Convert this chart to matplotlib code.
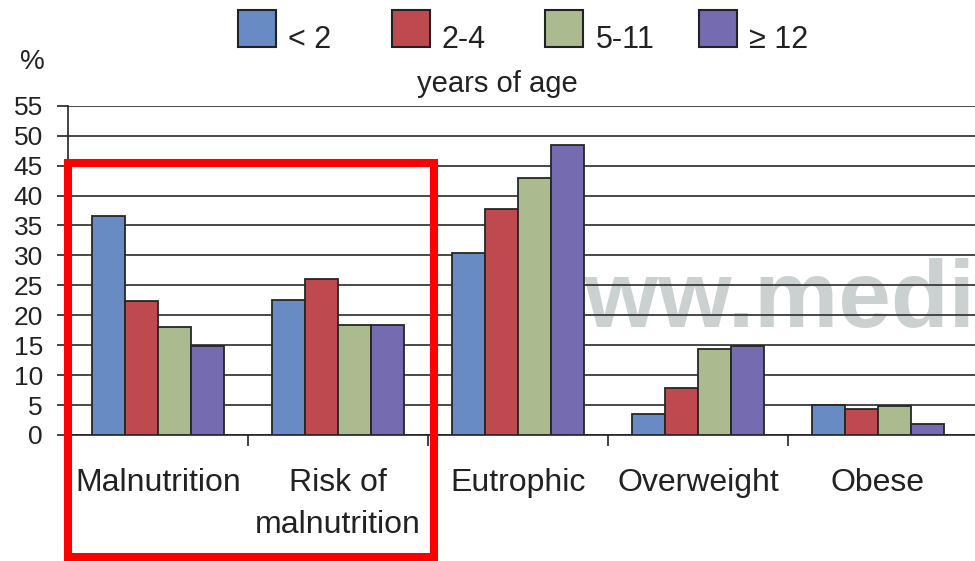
import numpy as np
import matplotlib.pyplot as plt
from matplotlib.patches import Rectangle

plt.rcParams['font.family'] = ['Liberation Sans', 'DejaVu Sans']

# Data
categories = ["Malnutrition", "Risk of\nmalnutrition", "Eutrophic", "Overweight", "Obese"]
age_groups = ["< 2", "2-4", "5-11", "\u2265 12"]
lt2 = [36.5, 22.5, 30.4, 3.5, 5.0]
a2_4 = [22.3, 26.0, 37.8, 7.8, 4.3]
a5_11 = [18.1, 18.3, 43.0, 14.4, 4.8]
ge12 = [14.8, 18.3, 48.5, 14.8, 1.8]
series = [lt2, a2_4, a5_11, ge12]
colors = ["#698bc4", "#be4a50", "#abbb8f", "#756bb0"]

W, H = 975, 561
fig = plt.figure(figsize=(W / 100, H / 100), dpi=100)
ax = fig.add_axes([68 / W, 1 - 435 / H, 1 - 68 / W, (435 - 105.7) / H])

x = np.arange(len(categories))
w = 0.182
for i, (vals, c) in enumerate(zip(series, colors)):
    ax.bar(x + (i - 1.5) * w, vals, width=w, color=c, edgecolor="#262626",
           linewidth=1.3, zorder=3, label=age_groups[i])

# watermark behind the grid (cut off at the right edge, as in the source)
ax.text(1.96, 18.0, "www.medig", fontsize=68, fontweight="bold",
        color="#cbd0d0", ha="left", va="baseline", zorder=0.5, clip_on=True)

ax.set_ylim(0, 55)
ax.set_xlim(-0.5, -0.5 + (W - 68) / 180)
ax.set_yticks(np.arange(0, 56, 5))
ax.yaxis.grid(True, color="#3a3a3a", linewidth=1.3, zorder=1)
ax.set_axisbelow(True)
ax.tick_params(axis="y", labelsize=19, length=8, width=1.2, pad=10, colors="#222222")

ax.set_xticks(x)
ax.set_xticklabels(categories, fontsize=23, color="#222222", linespacing=1.52)
ax.set_xticks(np.arange(0.5, 4.0, 1.0), minor=True)
ax.tick_params(axis="x", which="major", length=0, pad=24)
ax.tick_params(axis="x", which="minor", length=8, width=1.2, color="#222222")

for s in ["top", "right"]:
    ax.spines[s].set_visible(False)
for s in ["left", "bottom"]:
    ax.spines[s].set_color("#222222")
    ax.spines[s].set_linewidth(1.2)

# legend: squares with labels, laid out in a row
for i, (lab, c) in enumerate(zip(age_groups, colors)):
    x0 = 238 + i * 153.7
    fig.patches.append(Rectangle((x0 / W, 1 - 47 / H), 38 / W, 37 / H,
                                 transform=fig.transFigure, facecolor=c,
                                 edgecolor="#222222", linewidth=1.5))
    fig.text((x0 + 50) / W, 1 - 48 / H, lab, fontsize=22, ha="left", va="baseline",
             color="#222222")

fig.text(32 / W, 1 - 62 / H, "%", fontsize=20, ha="center", va="center", color="#222222")
fig.text(497 / W, 1 - 84 / H, "years of age", fontsize=21, ha="center", va="center",
         color="#222222")

# red highlight box
fig.patches.append(Rectangle((68 / W, 1 - 557 / H), (434 - 68) / W, (557 - 163) / H,
                             transform=fig.transFigure, fill=False, edgecolor="#ff0000",
                             linewidth=5.8, zorder=10))

fig.savefig("out.png", dpi=100)
